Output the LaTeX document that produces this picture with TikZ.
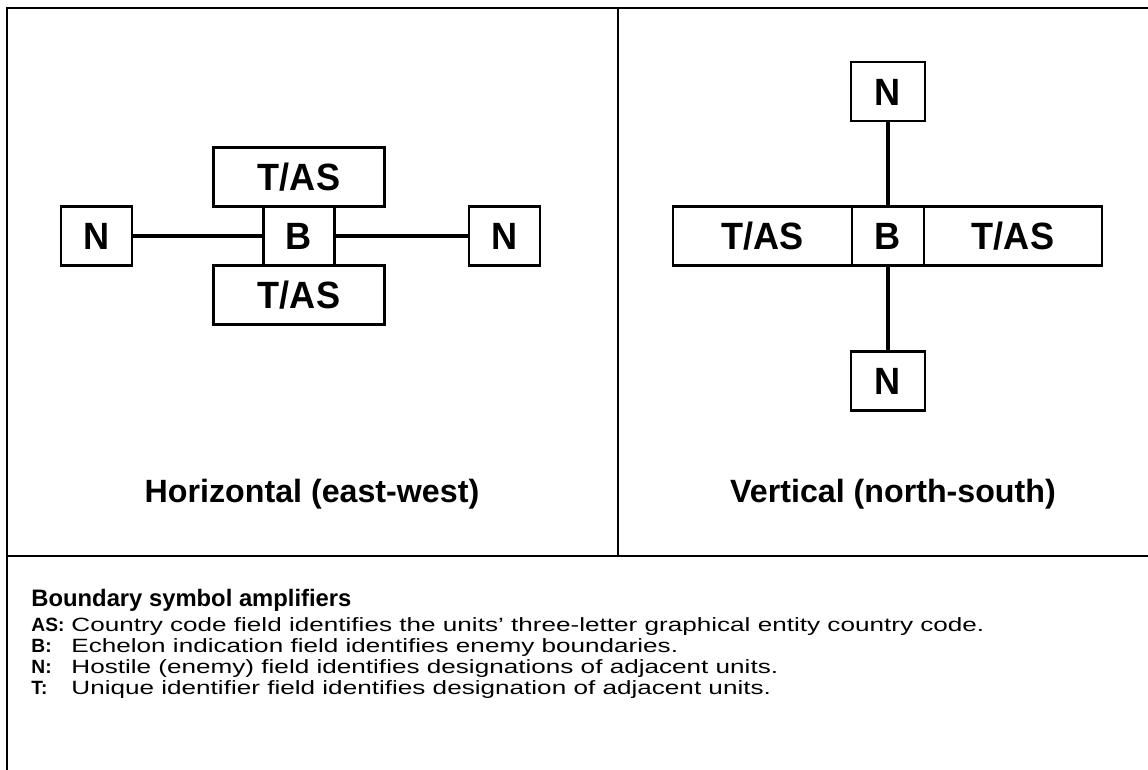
\documentclass[tikz,border=0pt]{standalone}
\usepackage{fontspec}
\setmainfont{Liberation Sans}
\newfontfamily\fieldfont[FakeStretch=0.95]{Liberation Sans}
\newfontfamily\legendfont[FakeStretch=1.36]{Liberation Sans}
\usetikzlibrary{positioning}

\tikzset{
  frame/.style={line width=1.4pt, line cap=rect},
  field/.style={draw, line width=1.2pt, outer sep=0pt, inner sep=0pt,
    font=\fontsize{19}{20}\fieldfont\bfseries,
    text height=13.6pt, text depth=0pt, minimum height=29.5pt},
  link/.style={line width=1.6pt},
  caption/.style={font=\fontsize{16.1}{18}\selectfont\bfseries, anchor=base},
  heading/.style={font=\fontsize{11.9}{14}\selectfont\bfseries, anchor=base west, inner sep=0pt},
  keyname/.style={font=\fontsize{9.6}{11}\selectfont\bfseries, anchor=base west, inner sep=0pt},
  keytext/.style={font=\fontsize{9.6}{11}\legendfont, anchor=base west, inner sep=0pt}
}

\begin{document}
\begin{tikzpicture}[x=0.5pt, y=-0.5pt]
	\useasboundingbox (0,0) rectangle (1148,770);
	% frame
	\draw[frame] (7,770) -- (7,8) -- (1148,8);
	\draw[frame] (618,8) -- (618,556);
	\draw[frame] (7,556) -- (1148,556);
	% horizontal boundary
	\node[field, minimum width=35.5pt] (bH) at (299,236) {B};
	\node[field, minimum width=85.5pt, above=0pt of bH] (tasHN) {T/AS};
	\node[field, minimum width=85.5pt, below=0pt of bH] (tasHS) {T/AS};
	\node[field, minimum width=35.5pt] (nHW) at (96.5,236) {N};
	\node[field, minimum width=35.5pt] (nHE) at (504.5,236) {N};
	\draw[link] (nHW) -- (bH);
	\draw[link] (bH) -- (nHE);
	\node[caption] (capH) at (312,503) {Horizontal (east-west)};
	% vertical boundary
	\node[field, minimum width=36pt] (bV) at (888,236) {B};
	\node[field, minimum width=89.5pt, left=0pt of bV] (tasVW) {T/AS};
	\node[field, minimum width=89pt, right=0pt of bV] (tasVE) {T/AS};
	\node[field, minimum width=37pt] (nVN) at (888,91.5) {N};
	\node[field, minimum width=37pt] (nVS) at (888,381) {N};
	\draw[link] (nVN) -- (bV);
	\draw[link] (bV) -- (nVS);
	\node[caption] (capV) at (893,503) {Vertical (north-south)};
	% legend
	\node[heading] (legend) at (31,607) {Boundary symbol amplifiers};
	\foreach \k/\t [count=\i] in {AS/{Country code field identifies the units’ three-letter graphical entity country code.},
		B/{Echelon indication field identifies enemy boundaries.},
		N/{Hostile (enemy) field identifies designations of adjacent units.},
		T/{Unique identifier field identifies designation of adjacent units.}} {
		\node[keyname] (key\i) at (31,611+21*\i) {\k:};
		\node[keytext] (text\i) at (71,611+21*\i) {\t};
	}
\end{tikzpicture}
\end{document}
